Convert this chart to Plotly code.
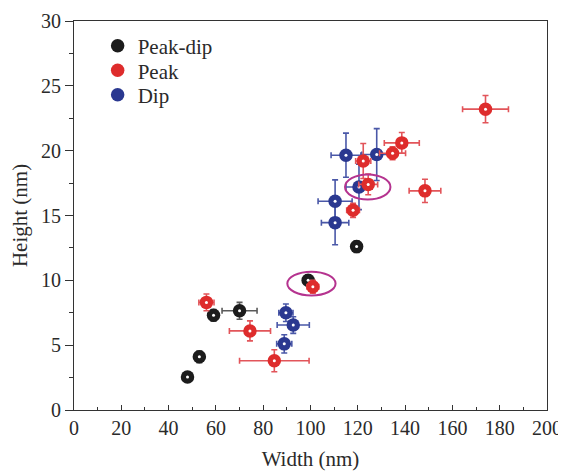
import plotly.graph_objects as go

# ---- data (nm) ----
peakdip_x = [48, 53, 59, 70, 99, 119.5]
peakdip_y = [2.55, 4.1, 7.3, 7.65, 10.0, 12.6]
peakdip_xerr = [2, 2, 1.8, 7.4, 2, 1.7]
peakdip_yerr = [0.35, 0.45, 0.45, 0.65, 0.4, 0.45]

peak_x = [56, 74.4, 84.7, 101, 118, 122.3, 124.4, 134.7, 138.6, 148.4, 174]
peak_y = [8.3, 6.1, 3.8, 9.5, 15.4, 19.2, 17.4, 19.8, 20.6, 16.9, 23.2]
peak_xerr = [3.2, 8.7, 14.7, 2.5, 2.7, 3.2, 4.0, 5.5, 7.4, 6.7, 9.7]
peak_yerr = [0.65, 0.77, 0.85, 0.5, 0.55, 1.35, 0.8, 0.5, 0.8, 0.9, 1.05]

dip_x = [88.9, 89.6, 92.7, 110.4, 110.4, 115, 120.5, 128]
dip_y = [5.1, 7.5, 6.55, 14.45, 16.1, 19.65, 17.2, 19.7]
dip_xerr = [3.2, 3, 6.8, 5.8, 7.2, 6.3, 5.5, 6.3]
dip_yerr = [0.7, 0.68, 0.64, 1.7, 1.65, 1.7, 1.75, 2.0]

# highlighted regions (center x, center y, half-width, half-height)
ellipse_cx = [124.2, 100.4]
ellipse_cy = [17.2, 9.75]
ellipse_rx = [9.6, 10.2]
ellipse_ry = [0.97, 0.92]

x_ticks = list(range(0, 201, 20))
y_ticks = list(range(0, 31, 5))

FONT = "Liberation Serif, Times New Roman, serif"
TEXT = "#2a2a2a"

# name, x, y, xerr, yerr, colour, error colour, legend id, legend y
series = [
    ("Peak-dip", peakdip_x, peakdip_y, peakdip_xerr, peakdip_yerr, "#1c1c1c", "#5a5a5a", "legend", 0.988),
    ("Dip", dip_x, dip_y, dip_xerr, dip_yerr, "#2a3890", "#4a58a8", "legend3", 0.862),
    ("Peak", peak_x, peak_y, peak_xerr, peak_yerr, "#de2c2c", "#e2555a", "legend2", 0.925),
]

fig = go.Figure()
legends = {}
for name, xs, ys, xe, ye, col, ecol, leg, ly in series:
    fig.add_trace(go.Scatter(
        x=xs, y=ys, mode="markers", name=name, legend=leg,
        error_x=dict(type="data", array=xe, color=ecol, thickness=1.6, width=3),
        error_y=dict(type="data", array=ye, color=ecol, thickness=1.6, width=3),
        marker=dict(size=13.5, color=col, line=dict(width=0)),
    ))
    fig.add_trace(go.Scatter(
        x=xs, y=ys, mode="markers", showlegend=False, hoverinfo="skip",
        marker=dict(size=3, color="white", line=dict(width=0)),
    ))
    legends[leg] = dict(x=0.05, y=ly, xanchor="left", yanchor="top",
                        bgcolor="rgba(0,0,0,0)",
                        font=dict(family=FONT, size=21, color=TEXT),
                        itemwidth=30)

for cx, cy, rx, ry in zip(ellipse_cx, ellipse_cy, ellipse_rx, ellipse_ry):
    fig.add_shape(type="circle", xref="x", yref="y",
                  x0=cx - rx, x1=cx + rx, y0=cy - ry, y1=cy + ry,
                  line=dict(color="#b5338f", width=2))

fig.update_layout(
    width=558, height=463,
    margin=dict(l=66, r=19, t=13, b=61, autoexpand=False),
    paper_bgcolor="white", plot_bgcolor="white",
    font=dict(family=FONT, size=20, color=TEXT),
    showlegend=True,
    **legends,
)
fig.update_xaxes(
    range=[0, 200], tickvals=x_ticks, ticktext=[str(v) for v in x_ticks],
    showline=True, linecolor="#333", linewidth=1, mirror=True,
    ticks="inside", ticklen=5, tickcolor="#333",
    tickfont=dict(family=FONT, size=20, color=TEXT),
    minor=dict(dtick=10, ticks="inside", ticklen=3, tickcolor="#333"),
    showgrid=False, zeroline=False, automargin=False,
    title=dict(text="Width (nm)", font=dict(family=FONT, size=21, color=TEXT)),
)
fig.update_yaxes(
    range=[0, 30], tickvals=y_ticks, ticktext=[str(v) for v in y_ticks],
    showline=True, linecolor="#333", linewidth=1, mirror=True,
    ticks="outside", ticklen=8, tickcolor="#333",
    tickfont=dict(family=FONT, size=20, color=TEXT),
    minor=dict(dtick=2.5, ticks="outside", ticklen=4, tickcolor="#333"),
    showgrid=False, zeroline=False, automargin=False,
    title=dict(text="Height (nm)", font=dict(family=FONT, size=21, color=TEXT)),
)

fig.write_html("out.html")
